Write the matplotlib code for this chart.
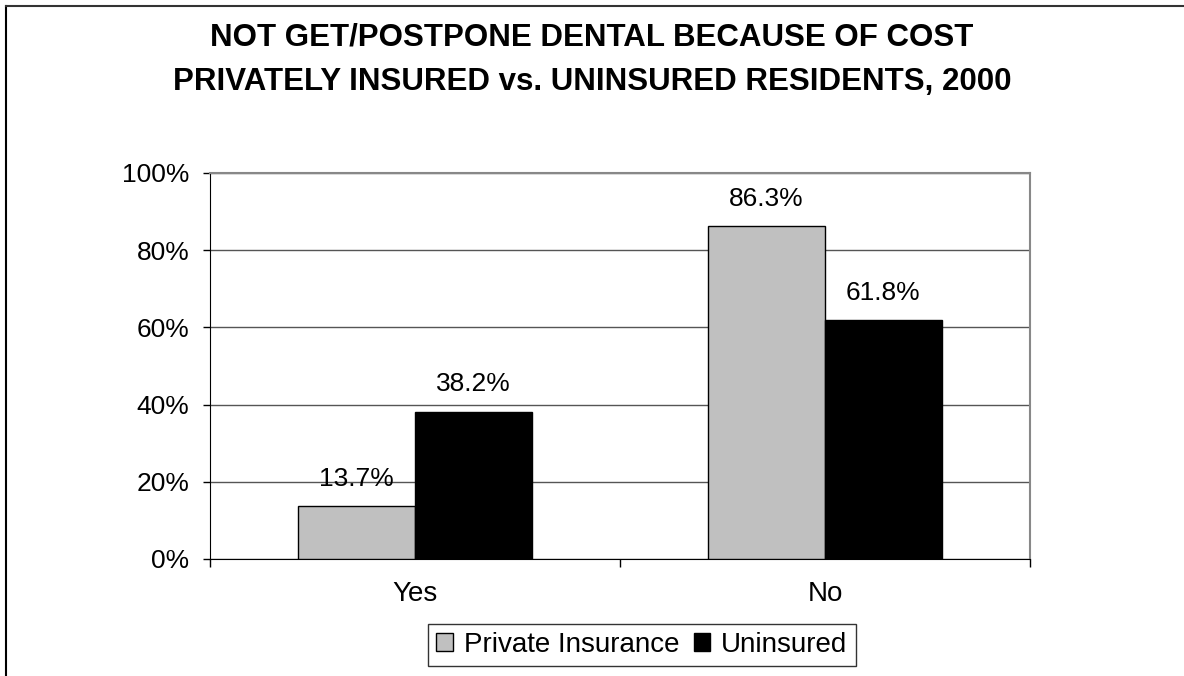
import matplotlib
matplotlib.use('Agg')
import matplotlib.pyplot as plt
import matplotlib.patches as mpatches
from matplotlib.lines import Line2D
import numpy as np

plt.rcParams['font.family'] = ['Liberation Sans', 'DejaVu Sans']

# ---------------------------------------------------------------------------
# Data
# ---------------------------------------------------------------------------
categories = ['Yes', 'No']
series_names = ['Private Insurance', 'Uninsured']
private_vals = [13.7, 86.3]
uninsured_vals = [38.2, 61.8]
y_ticks = [0, 20, 40, 60, 80, 100]
title_lines = ['NOT GET/POSTPONE DENTAL BECAUSE OF COST',
               'PRIVATELY INSURED vs. UNINSURED RESIDENTS, 2000']

W, H = 1184, 676
fig = plt.figure(figsize=(W / 100, H / 100), dpi=100)
fig.patch.set_facecolor('white')

# chart frame (left + top only)
fig.add_artist(Line2D([6 / W, 6 / W], [0, 1 - 6 / H], color='black', lw=1.5))
fig.add_artist(Line2D([6 / W, 1], [1 - 6 / H, 1 - 6 / H], color='#333333', lw=1.5))

# title
fig.text(0.5, 1 - 37 / H, title_lines[0], ha='center', va='center',
         fontsize=22.5, fontweight='bold')
fig.text(0.5, 1 - 82 / H, title_lines[1], ha='center', va='center',
         fontsize=22.5, fontweight='bold')

ax = fig.add_axes([210 / W, 1 - 559 / H, 820 / W, 386 / H])

x = np.arange(len(categories))
bw = 0.285
ax.bar(x - bw / 2, private_vals, bw, color='#C0C0C0', edgecolor='black',
       linewidth=1, zorder=3, label=series_names[0])
ax.bar(x + bw / 2, uninsured_vals, bw, color='black', edgecolor='black',
       linewidth=1, zorder=3, label=series_names[1])

for xi, v in zip(x - bw / 2, private_vals):
    ax.annotate(f'{v:.1f}%', (xi, v), xytext=(0, 11), textcoords='offset points',
                ha='center', va='bottom', fontsize=19, zorder=4)
for xi, v in zip(x + bw / 2, uninsured_vals):
    ax.annotate(f'{v:.1f}%', (xi, v), xytext=(0, 11), textcoords='offset points',
                ha='center', va='bottom', fontsize=19, zorder=4)

ax.set_xlim(-0.5, len(categories) - 0.5)
ax.set_ylim(0, 100)
ax.set_yticks(y_ticks)
ax.set_yticklabels([f'{t}%' for t in y_ticks], fontsize=19)
ax.yaxis.grid(True, color='#555555', lw=1, zorder=0)
ax.tick_params(axis='y', length=5, width=1, pad=10, direction='out')

# category boundaries as ticks, labels at centres
ax.set_xticks(np.arange(len(categories) + 1) - 0.5)
ax.set_xticklabels([])
ax.set_xticks(x, minor=True)
ax.set_xticklabels(categories, minor=True, fontsize=20)
ax.tick_params(axis='x', which='major', length=6, width=1, direction='out')
ax.tick_params(axis='x', which='minor', length=0, pad=16)

for side in ['top', 'right']:
    ax.spines[side].set_color('#888888')
    ax.spines[side].set_linewidth(1.5)
ax.spines['left'].set_color('black')
ax.spines['bottom'].set_color('black')

handles = [
    mpatches.Patch(facecolor='#C0C0C0', edgecolor='black', label=series_names[0]),
    mpatches.Patch(facecolor='black', edgecolor='black', label=series_names[1]),
]
leg = fig.legend(handles=handles, loc='center', ncol=2,
                 bbox_to_anchor=(642 / W, 1 - 645 / H), fontsize=20,
                 frameon=True, fancybox=False, shadow=False,
                 handlelength=0.6, handleheight=0.6, handletextpad=0.4,
                 columnspacing=0.5, borderpad=0.3)
leg.get_frame().set_edgecolor('black')
leg.get_frame().set_linewidth(1)

fig.savefig('out.png', dpi=100, facecolor='white')
